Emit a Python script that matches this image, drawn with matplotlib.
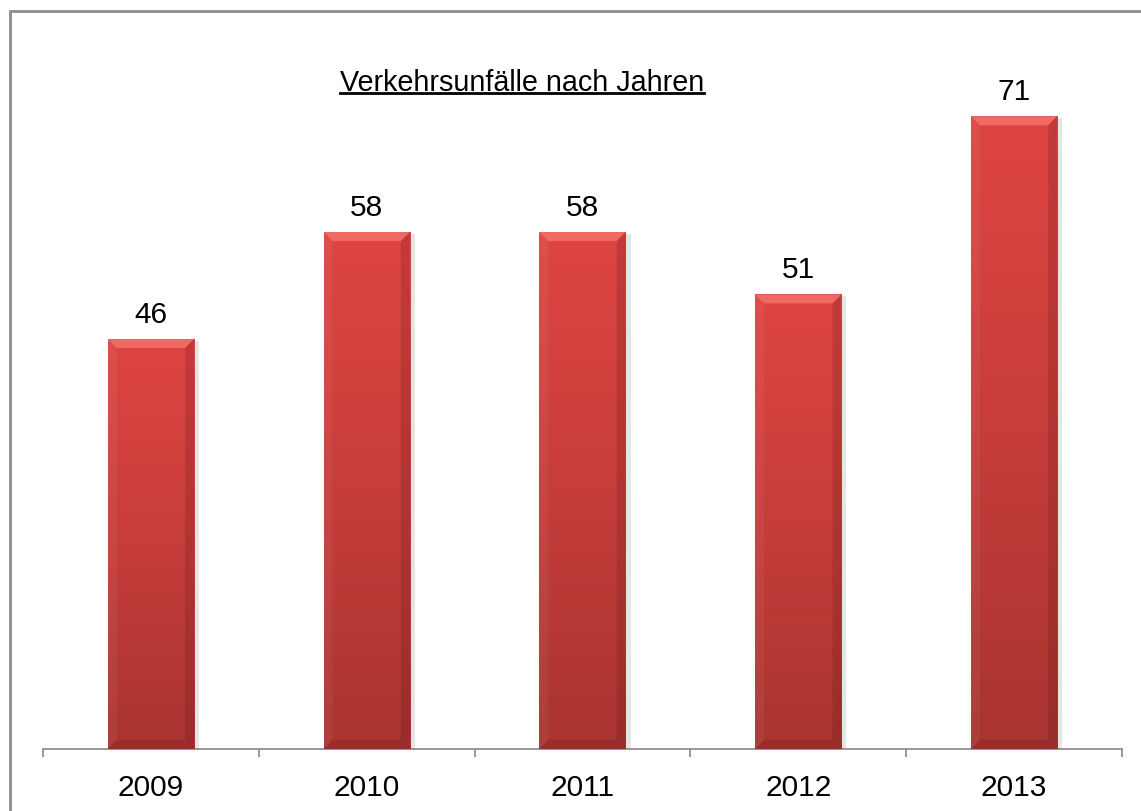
import numpy as np
import matplotlib.pyplot as plt
from matplotlib.patches import Polygon, Rectangle
from matplotlib.lines import Line2D
from matplotlib.colors import LinearSegmentedColormap

plt.rcParams['font.family'] = ['Liberation Sans', 'DejaVu Sans']

years = ["2009", "2010", "2011", "2012", "2013"]
accidents = [46, 58, 58, 51, 71]
title = "Verkehrsunfälle nach Jahren"

W, H = 1141, 812
fig = plt.figure(figsize=(W / 100, H / 100), dpi=100)
ax = fig.add_axes([43 / W, 1 - 750 / H, (1122 - 43) / W, 713 / H])

x = np.arange(len(years))
ax.set_xlim(-0.5, len(years) - 0.5)
ax.set_ylim(0, 80)

bars = ax.bar(x, accidents, width=0.40, color='#d24340', zorder=2)

# pixel -> data scale, for the bevel size
px_x = len(years) / (1122 - 43)
px_y = 80 / 713.0
bev = 9

grad = np.linspace(0, 1, 256).reshape(-1, 1)
cm = LinearSegmentedColormap.from_list('bar', ['#a83430', '#c63d3a', '#de4542'])

for b in bars:
    x0, y0 = b.get_x(), b.get_y()
    x1, y1 = x0 + b.get_width(), y0 + b.get_height()
    # soft shadow
    ax.add_patch(Rectangle((x0 + 2 * px_x, y0 - 2 * px_y), x1 - x0 + 3 * px_x, y1 - y0,
                           color='#000000', alpha=0.10, lw=0, zorder=1))
    im = ax.imshow(grad, extent=(x0, x1, y0, y1), origin='lower', aspect='auto',
                   cmap=cm, zorder=3)
    im.set_clip_path(b)
    bx, by = bev * px_x, bev * px_y
    top = Polygon([(x0, y1), (x1, y1), (x1 - bx, y1 - by), (x0 + bx, y1 - by)],
                  color='#ee6a63', lw=0, zorder=4)
    left = Polygon([(x0, y0), (x0, y1), (x0 + bx, y1 - by), (x0 + bx, y0 + by)],
                   color='#ffffff', alpha=0.05, lw=0, zorder=4)
    right = Polygon([(x1, y0), (x1, y1), (x1 - bx, y1 - by), (x1 - bx, y0 + by)],
                    color='#5a1512', alpha=0.20, lw=0, zorder=4)
    bottom = Polygon([(x0, y0), (x1, y0), (x1 - bx, y0 + by), (x0 + bx, y0 + by)],
                     color='#5a1512', alpha=0.20, lw=0, zorder=4)
    for p in (top, left, right, bottom):
        ax.add_patch(p)

ax.bar_label(bars, labels=[str(v) for v in accidents], padding=8, fontsize=21.5)

for s in ('top', 'left', 'right'):
    ax.spines[s].set_visible(False)
ax.spines['bottom'].set_color('#868686')
ax.spines['bottom'].set_linewidth(1.2)
ax.set_yticks([])
ax.set_xticks(x)
ax.set_xticklabels(years, fontsize=21.5)
ax.tick_params(axis='x', which='major', length=0, pad=17)
ax.set_xticks(np.arange(len(years) + 1) - 0.5, minor=True)
ax.tick_params(axis='x', which='minor', length=6, width=1.2, color='#868686')

t = fig.text(522 / W, 1 - 91 / H, title, fontsize=20.7, ha='center', va='baseline')
fig.canvas.draw()
bb = t.get_window_extent()
uy = (H - 94) / H
fig.add_artist(Line2D([bb.x0 / W, bb.x1 / W], [uy, uy], color='black', lw=2))

fig.add_artist(Rectangle((10 / W, -0.1), 2, 1 - 12 / H + 0.1, transform=fig.transFigure,
                         fill=False, edgecolor='#8c8c8c', lw=2))

fig.savefig('out.png', dpi=100)
